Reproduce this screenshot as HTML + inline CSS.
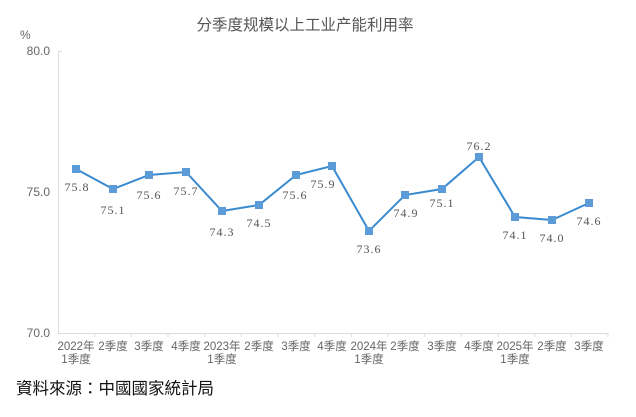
<!DOCTYPE html>
<html><head><meta charset="utf-8"><style>
html,body{margin:0;padding:0;background:#fff;}
svg{display:block;}
.ax{font-family:"Liberation Sans","Noto Sans CJK SC",sans-serif;fill:#666;font-size:12px;}
.cat{font-family:"Liberation Sans","Noto Sans CJK SC",sans-serif;fill:#666;font-size:11.5px;}
.val{font-family:"Liberation Serif","Noto Serif CJK SC",serif;fill:#555;font-size:12px;letter-spacing:1px;}
</style></head><body>
<svg width="636" height="417" viewBox="0 0 636 417" xmlns="http://www.w3.org/2000/svg">
<rect width="636" height="417" fill="#fff"/>
<text x="305" y="30" text-anchor="middle" font-family="'Liberation Sans','Noto Sans CJK SC',sans-serif" font-size="15.5" fill="#555">分季度规模以上工业产能利用率</text>
<text x="20" y="39" class="ax">%</text>
<text x="50" y="55" class="ax" text-anchor="end">80.0</text>
<text x="50" y="196" class="ax" text-anchor="end">75.0</text>
<text x="50" y="337" class="ax" text-anchor="end">70.0</text>
<line x1="58.5" y1="51" x2="58.5" y2="333" stroke="#ddd"/>
<line x1="58" y1="333.5" x2="608" y2="333.5" stroke="#ddd"/>
<line x1="58" y1="51.5" x2="62" y2="51.5" stroke="#ddd"/>
<g stroke="#ddd">
<line x1="94.7" y1="333" x2="94.7" y2="337"/><line x1="131.3" y1="333" x2="131.3" y2="337"/><line x1="168" y1="333" x2="168" y2="337"/><line x1="204.7" y1="333" x2="204.7" y2="337"/><line x1="241.3" y1="333" x2="241.3" y2="337"/><line x1="278" y1="333" x2="278" y2="337"/><line x1="314.7" y1="333" x2="314.7" y2="337"/><line x1="351.3" y1="333" x2="351.3" y2="337"/><line x1="388" y1="333" x2="388" y2="337"/><line x1="424.7" y1="333" x2="424.7" y2="337"/><line x1="461.3" y1="333" x2="461.3" y2="337"/><line x1="498" y1="333" x2="498" y2="337"/><line x1="534.7" y1="333" x2="534.7" y2="337"/><line x1="571.3" y1="333" x2="571.3" y2="337"/><line x1="608" y1="333" x2="608" y2="337"/>
</g>
<polyline fill="none" stroke="#3a8ad0" stroke-width="2" points="76,169 113,189 149,175 186,172 222,211 259,205 296,175 332,166 369,231 405,195 442,189 479,157 515,217 552,220 589,203"/>
<g fill="#5a9bd8">
<rect x="72" y="165" width="8" height="8"/><rect x="109" y="185" width="8" height="8"/><rect x="145" y="171" width="8" height="8"/><rect x="182" y="168" width="8" height="8"/><rect x="218" y="207" width="8" height="8"/><rect x="255" y="201" width="8" height="8"/><rect x="292" y="171" width="8" height="8"/><rect x="328" y="162" width="8" height="8"/><rect x="365" y="227" width="8" height="8"/><rect x="401" y="191" width="8" height="8"/><rect x="438" y="185" width="8" height="8"/><rect x="475" y="153" width="8" height="8"/><rect x="511" y="213" width="8" height="8"/><rect x="548" y="216" width="8" height="8"/><rect x="585" y="199" width="8" height="8"/>
</g>
<g class="val" text-anchor="middle">
<text x="77" y="191">75.8</text><text x="113" y="214">75.1</text><text x="149" y="199">75.6</text><text x="186" y="195">75.7</text><text x="222" y="236">74.3</text><text x="259" y="227">74.5</text><text x="295" y="199">75.6</text><text x="323" y="188">75.9</text><text x="369" y="253">73.6</text><text x="406" y="217">74.9</text><text x="442" y="207">75.1</text><text x="479" y="150">76.2</text><text x="515" y="239">74.1</text><text x="552" y="242">74.0</text><text x="589" y="225">74.6</text>
</g>
<g class="cat" text-anchor="middle">
<text x="76" y="350">2022年</text><text x="76" y="363">1季度</text>
<text x="113" y="350">2季度</text><text x="149" y="350">3季度</text><text x="186" y="350">4季度</text>
<text x="222" y="350">2023年</text><text x="222" y="363">1季度</text>
<text x="259" y="350">2季度</text><text x="296" y="350">3季度</text><text x="332" y="350">4季度</text>
<text x="369" y="350">2024年</text><text x="369" y="363">1季度</text>
<text x="405" y="350">2季度</text><text x="442" y="350">3季度</text><text x="479" y="350">4季度</text>
<text x="515" y="350">2025年</text><text x="515" y="363">1季度</text>
<text x="552" y="350">2季度</text><text x="589" y="350">3季度</text>
</g>
<text x="16" y="394" font-family="'Liberation Sans','Noto Sans CJK TC',sans-serif" font-size="16.5" fill="#111">資料來源：中國國家統計局</text>
</svg>
</body></html>
